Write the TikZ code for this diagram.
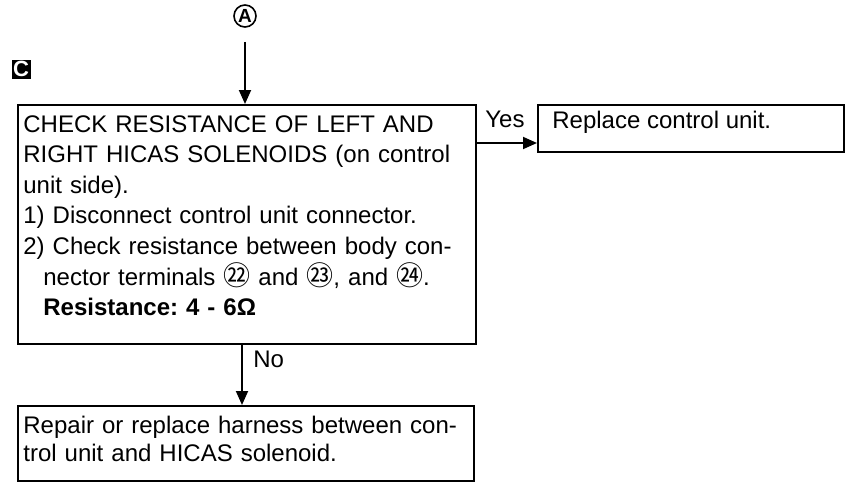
\documentclass[tikz,border=0pt]{standalone}
\usepackage{fontspec}
\setmainfont{Liberation Sans}
\newfontfamily\cjk{Noto Sans CJK JP}
\usetikzlibrary{arrows.meta}
\frenchspacing
\newcommand{\flowfont}{\fontsize{12}{15.3}\selectfont}
\newcommand{\term}[1]{{\cjk\fontsize{13.5}{15}\selectfont #1}}

\begin{document}
\begin{tikzpicture}[x=0.5pt,y=-0.5pt,
  frame/.style={draw,line width=1pt,inner sep=0pt,anchor=north west},
  steptext/.style={anchor=north west,align=left,inner sep=0pt,font=\flowfont},
  flow/.style={line width=0.9pt,-{Triangle[length=7pt,width=6pt]}},
  answer/.style={anchor=base west,inner sep=0pt,font=\flowfont}]
  \useasboundingbox (0,0) rectangle (853,487);
  % entry mark and section tag
  \node[draw,circle,line width=0.8pt,minimum size=11pt,inner sep=0pt,
        font=\bfseries\fontsize{9.5}{9.5}\selectfont] (entryA) at (245,16) {A};
  \node[fill=black,text=white,minimum width=9.5pt,minimum height=9.5pt,inner sep=0pt,
        font=\bfseries\fontsize{11}{11}\selectfont] (tagC) at (21,69) {C};
  % the check and its text
  \node[frame,minimum width=229pt,minimum height=119.5pt] (check) at (17,104) {};
  \node[steptext,text width=226pt] (checktext) at (23,115) {CHECK RESISTANCE OF LEFT AND\\
    RIGHT HICAS SOLENOIDS (on control\\
    unit side).\\
    1) Disconnect control unit connector.\\
    2) Check resistance between body con-\\
    \hspace*{10pt}nector terminals \term{㉒} and \term{㉓}, and \term{㉔}.\\
    \hspace*{10pt}\textbf{Resistance: 4 - 6Ω}};
  % yes branch
  \node[frame,minimum width=153pt,minimum height=23.5pt] (replace) at (537,104) {};
  \node[steptext] (replacetext) at (552,111) {Replace control unit.};
  % no branch
  \node[frame,minimum width=228pt,minimum height=37.5pt] (repair) at (17,405) {};
  \node[steptext,text width=224pt,font=\fontsize{12}{13.7}\selectfont] (repairtext) at (23,416)
    {Repair or replace harness between con-\\
    trol unit and HICAS solenoid.};
  % connectors
  \draw[flow,shorten <=7pt] (entryA.south) -- (entryA.south |- check.north);
  \coordinate (yesfrom) at (check.east |- 0,143);
  \draw[flow] (yesfrom) -- (yesfrom -| replace.west);
  \node[answer] (yes) at (485,127) {Yes};
  \coordinate (nofrom) at (check.south -| 242,0);
  \draw[flow] (nofrom) -- (nofrom |- repair.north);
  \node[answer] (no) at (253,367) {No};
\end{tikzpicture}
\end{document}
